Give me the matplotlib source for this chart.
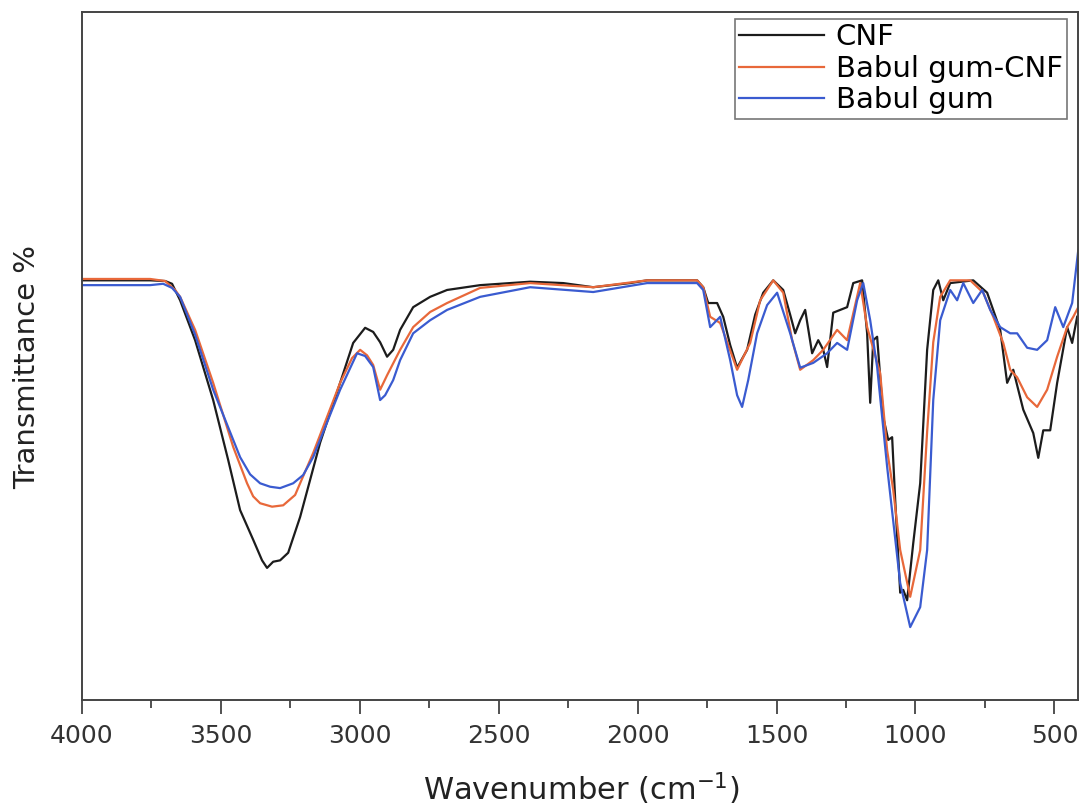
import matplotlib.pyplot as plt
from matplotlib.ticker import MultipleLocator

# FTIR spectra, wavenumber (cm-1) and transmittance (arbitrary units)
cnf_wn = [4000, 3755, 3701, 3676, 3647, 3593, 3528, 3474, 3431, 3384, 3352, 3334, 3312, 3287,
          3258, 3215, 3143, 3071, 3024, 2981, 2952, 2927, 2902, 2880, 2855, 2808, 2747, 2686,
          2567, 2387, 2268, 2160, 2027, 1966, 1786, 1764, 1746, 1714, 1692, 1667, 1642, 1606,
          1577, 1548, 1512, 1476, 1451, 1433, 1415, 1397, 1372, 1350, 1332, 1318, 1296, 1246,
          1224, 1192, 1174, 1163, 1152, 1138, 1116, 1098, 1084, 1073, 1055, 1044, 1030, 1008,
          983, 958, 936, 918, 900, 875, 792, 742, 695, 670, 648, 612, 576, 558, 540, 515, 490,
          454, 436, 418]
cnf_t = [61.0, 61.0, 60.9, 60.5, 58.1, 52.3, 43.6, 34.9, 27.6, 23.3, 20.3, 19.2, 20.1, 20.3,
         21.4, 26.6, 37.4, 46.1, 51.9, 54.1, 53.5, 52.0, 49.9, 50.9, 53.8, 57.1, 58.6, 59.6,
         60.3, 60.8, 60.6, 60.0, 60.6, 61.0, 61.0, 60.0, 57.7, 57.7, 55.7, 51.6, 48.3, 50.9,
         56.0, 59.2, 61.0, 59.6, 56.0, 53.3, 55.2, 56.7, 50.4, 52.3, 50.9, 48.4, 56.3, 57.1,
         60.6, 61.0, 53.3, 43.2, 52.3, 52.8, 41.1, 37.8, 38.2, 29.1, 15.6, 16.0, 14.5, 22.8,
         31.5, 50.9, 59.6, 61.0, 58.1, 60.6, 61.0, 59.2, 53.8, 46.1, 48.0, 42.2, 38.8, 35.2,
         39.2, 39.2, 46.1, 54.2, 51.9, 55.7]

gum_cnf_wn = [4000, 3755, 3701, 3665, 3647, 3593, 3528, 3456, 3406, 3384, 3359, 3316, 3276,
              3233, 3215, 3168, 3071, 3028, 2999, 2974, 2952, 2927, 2902, 2855, 2808, 2747,
              2686, 2567, 2387, 2160, 1966, 1786, 1764, 1739, 1703, 1674, 1642, 1595, 1559,
              1512, 1476, 1444, 1415, 1368, 1332, 1282, 1246, 1199, 1174, 1127, 1102, 1080,
              1055, 1019, 983, 958, 936, 911, 875, 803, 756, 720, 684, 659, 634, 598, 562,
              526, 490, 454, 432, 414]
gum_cnf_t = [61.2, 61.2, 60.9, 59.6, 58.6, 53.8, 46.1, 36.8, 31.5, 29.6, 28.6, 28.1, 28.3,
             29.8, 31.5, 35.9, 46.1, 49.7, 50.9, 50.1, 48.7, 45.1, 47.2, 50.9, 54.2, 56.4,
             57.7, 59.9, 60.6, 60.0, 61.0, 61.0, 60.0, 55.7, 54.8, 51.6, 48.0, 51.9, 58.1,
             61.0, 59.2, 52.3, 48.0, 49.4, 50.9, 53.8, 52.3, 60.6, 54.2, 47.5, 36.3, 30.5,
             21.8, 15.0, 21.8, 39.0, 52.0, 58.6, 61.0, 61.0, 59.2, 55.7, 51.9, 48.0, 46.9,
             44.0, 42.6, 45.1, 49.9, 54.2, 55.7, 57.1]

gum_wn = [4000, 3755, 3708, 3676, 3647, 3593, 3528, 3431, 3395, 3359, 3323, 3287, 3240, 3204,
          3168, 3071, 3010, 2981, 2952, 2927, 2909, 2880, 2855, 2808, 2747, 2686, 2567, 2387,
          2160, 1966, 1786, 1764, 1739, 1703, 1667, 1642, 1624, 1602, 1570, 1534, 1498, 1451,
          1415, 1368, 1318, 1282, 1246, 1210, 1188, 1163, 1138, 1102, 1055, 1019, 983, 958,
          936, 911, 875, 850, 828, 792, 760, 731, 695, 659, 634, 598, 562, 526, 497, 468,
          436, 414]
gum_t = [60.3, 60.3, 60.5, 59.9, 58.6, 53.1, 45.1, 35.3, 32.8, 31.5, 31.0, 30.8, 31.5, 32.7,
         35.3, 45.1, 50.4, 50.0, 48.4, 43.6, 44.3, 46.5, 49.4, 53.3, 55.2, 56.7, 58.6, 60.0,
         59.3, 60.6, 60.6, 59.6, 54.2, 55.7, 49.4, 44.3, 42.6, 46.5, 53.3, 57.4, 59.2, 53.3,
         48.3, 49.0, 50.4, 51.9, 50.9, 58.1, 60.6, 55.2, 48.4, 33.9, 17.0, 10.6, 13.5, 21.8,
         43.6, 55.2, 59.6, 58.1, 60.6, 57.7, 59.6, 56.7, 54.2, 53.3, 53.3, 51.2, 50.9, 52.3,
         57.1, 54.2, 57.7, 65.4]

plt.rcParams['font.family'] = ['DejaVu Sans']

fig = plt.figure(figsize=(10.88, 8.06), dpi=100)
ax = fig.add_axes([0.0754, 0.1315, 0.9154, 0.8536])

ax.plot(cnf_wn, cnf_t, color='#1c1c1c', linewidth=1.6, label='CNF')
ax.plot(gum_cnf_wn, gum_cnf_t, color='#e8683a', linewidth=1.6, label='Babul gum-CNF')
ax.plot(gum_wn, gum_t, color='#3a5bd0', linewidth=1.6, label='Babul gum')

ax.set_xlim(4000, 415)
ax.set_ylim(0, 100)
ax.xaxis.set_major_locator(MultipleLocator(500))
ax.xaxis.set_minor_locator(MultipleLocator(250))
ax.set_yticks([])
ax.tick_params(axis='x', which='major', direction='out', length=10, width=1.2,
               labelsize=18, colors='#333333', pad=7)
ax.tick_params(axis='x', which='minor', direction='out', length=6, width=1.2, colors='#333333')
for side in ax.spines.values():
    side.set_color('#444444')
    side.set_linewidth(1.4)

ax.set_xlabel('Wavenumber (cm$^{-1}$)', fontsize=22, color='#222222')
ax.set_ylabel('Transmittance %', fontsize=21, color='#222222')
ax.xaxis.set_label_coords(0.501, -0.103)
ax.yaxis.set_label_coords(-0.041, 0.484)

leg = ax.legend(loc='upper right', bbox_to_anchor=(0.989, 0.99), borderaxespad=0,
                fontsize=21, handlelength=2.9, handletextpad=0.4, labelspacing=0.12,
                borderpad=0.15, fancybox=False, frameon=True)
leg.get_frame().set_edgecolor('#555555')
leg.get_frame().set_linewidth(1.2)

fig.savefig('out.png', dpi=100)
